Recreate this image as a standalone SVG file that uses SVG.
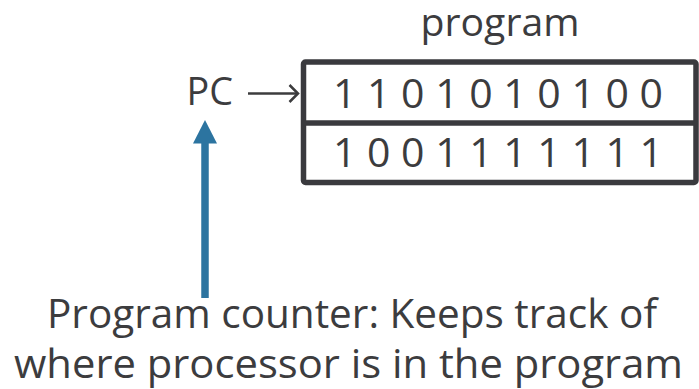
<svg xmlns="http://www.w3.org/2000/svg" width="699" height="389" viewBox="0 0 699 389">
<style>
.t{font-family:"Open Sans","Liberation Sans",sans-serif;fill:#3c3c3e}
.box{fill:none;stroke:#3a3a3e;stroke-width:5.5}
</style>
<defs>
<marker id="chev" markerWidth="14" markerHeight="22" refX="11" refY="11" orient="auto" markerUnits="userSpaceOnUse">
<path d="M2.5,2.5 L11,11 L2.5,19.5" fill="none" stroke="#3c3c3e" stroke-width="2.5"/>
</marker>
</defs>
<rect width="699" height="389" fill="#ffffff"/>
<g id="program-label">
<text class="t" x="500" y="36" font-size="39" text-anchor="middle" textLength="159" lengthAdjust="spacingAndGlyphs">program</text>
</g>
<g id="program-memory">
<rect class="box" x="303.5" y="62" width="392.5" height="120.5" rx="2"/>
<line class="box" x1="303.5" y1="123" x2="696" y2="123"/>
<text class="t" x="333" y="108" font-size="41" textLength="330" lengthAdjust="spacing">1 1 0 1 0 1 0 1 0 0</text>
<text class="t" x="333" y="167" font-size="41" textLength="330" lengthAdjust="spacing">1 0 0 1 1 1 1 1 1 1</text>
</g>
<g id="pc">
<text class="t" x="186.5" y="105" font-size="39" textLength="46.5" lengthAdjust="spacingAndGlyphs">PC</text>
</g>
<g id="description">
<text class="t" x="352" y="328" font-size="41" text-anchor="middle" textLength="610" lengthAdjust="spacingAndGlyphs">Program counter: Keeps track of</text>
<text class="t" x="348.5" y="377.5" font-size="41" text-anchor="middle" textLength="669" lengthAdjust="spacingAndGlyphs">where processor is in the program</text>
</g>
<g id="connectors">
<line x1="248" y1="93.5" x2="298" y2="93.5" stroke="#3c3c3e" stroke-width="2.5" marker-end="url(#chev)"/>
<line x1="205" y1="298" x2="205" y2="140" stroke="#2c74a0" stroke-width="7.5"/>
<polygon points="205,120 217,143.5 193,143.5" fill="#2c74a0"/>
</g>
</svg>
